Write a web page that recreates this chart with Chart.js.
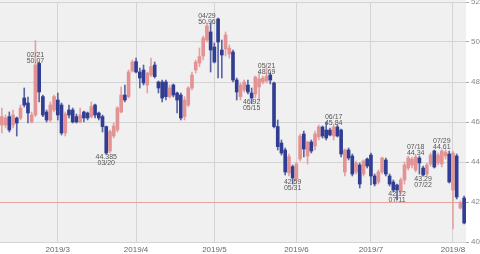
<!DOCTYPE html>
<html>
<head>
<meta charset="utf-8">
<script src="https://cdn.jsdelivr.net/npm/chart.js@4.4.1/dist/chart.umd.min.js"></script>
<style>
html, body { margin: 0; padding: 0; background: #fff; }
</style>
</head>
<body>
<canvas id="chart" width="480" height="254"></canvas>
<script>
// trading days shown (2019)
const febDays = [7, 8, 11, 12, 13, 14, 15, 19, 20, 21, 22, 25, 26, 27, 28];
const marDays = [1, 4, 5, 6, 7, 8, 11, 12, 13, 14, 15, 18, 19, 20, 21, 22, 25, 26, 27, 28, 29];
const aprDays = [1, 2, 3, 4, 5, 8, 9, 10, 11, 12, 15, 16, 17, 18, 22, 23, 24, 25, 26, 29, 30];
const mayDays = [1, 2, 3, 6, 7, 8, 9, 10, 13, 14, 15, 16, 17, 20, 21, 22, 23, 24, 28, 29, 30, 31];
const junDays = [3, 4, 5, 6, 7, 10, 11, 12, 13, 14, 17, 18, 19, 20, 21, 24, 25, 26, 27, 28];
const julDays = [1, 2, 3, 5, 8, 9, 10, 11, 12, 15, 16, 17, 18, 19, 22, 23, 24, 25, 26, 29, 30, 31];
const augDays = [1, 2, 5, 6];

const opens = [
  45.85, 45.85, 46.27, 45.85, 46.2, 46.2, 47.2, 46.95, 46.0, 46.35,
  48.93, 47.27, 46.5, 46.1, 46.6, 47.1, 46.85, 45.45, 46.6, 46.6,
  46.27, 46.0, 46.5, 46.45, 46.27, 46.85, 46.45, 46.27, 45.77, 44.55,
  45.3, 45.6, 46.5, 47.35, 47.27, 48.55, 49.02, 48.5, 48.6, 47.85,
  48.35, 48.85, 48.0, 48.0, 48.0, 47.27, 47.85, 47.45, 47.35, 46.27,
  46.85, 47.7, 48.6, 48.95, 49.3, 50.1, 50.5, 49.75, 51.15, 49.6,
  49.65, 49.4, 49.5, 48.1, 47.27, 47.6, 47.85, 47.45, 47.4, 47.75,
  48.0, 48.05, 48.35, 47.95, 45.77, 44.95, 44.6, 43.45, 43.77, 43.15,
  44.15, 45.4, 44.3, 45.0, 44.8, 45.25, 45.75, 45.6, 45.6, 45.3,
  45.75, 45.6, 43.5, 44.6, 44.3, 43.5, 43.85, 43.4, 44.15, 44.35,
  43.3, 43.0, 43.5, 44.1, 43.3, 43.0, 42.85, 42.5, 43.1, 43.7,
  43.85, 43.6, 44.2, 43.7, 43.4, 43.9, 44.55, 43.95, 43.9, 44.3,
  44.4, 42.6, 44.3, 41.7, 42.2
];
const highs = [
  46.7, 46.35, 46.5, 46.6, 46.25, 46.85, 47.7, 47.25, 46.5, 50.07,
  49.0, 47.35, 46.6, 47.0, 47.35, 47.45, 46.95, 46.5, 46.85, 46.7,
  46.4, 46.7, 46.55, 46.5, 47.0, 46.9, 46.5, 46.35, 45.8, 45.6,
  45.95, 46.77, 47.75, 47.85, 48.6, 49.1, 49.2, 48.7, 48.85, 48.5,
  49.2, 49.0, 48.05, 48.1, 48.1, 47.85, 47.9, 47.5, 47.45, 47.27,
  47.77, 48.5, 49.1, 49.7, 50.3, 50.96, 50.95, 49.95, 51.2, 50.1,
  50.5, 49.85, 49.6, 48.2, 47.95, 48.1, 48.1, 47.7, 48.3, 48.5,
  48.3, 48.69, 48.45, 48.0, 46.1, 45.1, 44.7, 44.4, 43.85, 44.0,
  45.4, 45.55, 45.05, 45.1, 45.55, 45.85, 45.8, 46.0, 45.7, 45.84,
  45.84, 45.65, 44.65, 44.7, 44.4, 44.05, 43.95, 44.1, 44.2, 44.45,
  43.4, 43.6, 44.25, 44.2, 43.4, 43.1, 42.9, 43.2, 44.0, 44.3,
  44.25, 44.34, 44.3, 43.8, 43.95, 44.45, 44.6, 44.45, 44.61, 44.6,
  44.55, 44.55, 44.4, 42.05, 42.3
];
const lows = [
  45.45, 45.7, 45.5, 45.7, 45.3, 46.1, 46.75, 45.95, 45.95, 46.27,
  47.0, 46.27, 46.0, 46.0, 46.5, 46.1, 45.35, 45.3, 46.2, 45.95,
  45.95, 45.95, 46.0, 46.1, 46.2, 46.2, 46.1, 45.5, 44.385, 44.45,
  45.2, 45.5, 46.45, 47.0, 47.2, 48.5, 48.45, 47.7, 47.85, 47.45,
  48.27, 48.2, 47.45, 47.0, 47.1, 47.2, 47.25, 46.45, 46.1, 46.1,
  46.77, 47.6, 48.45, 48.77, 49.1, 50.0, 48.5, 48.95, 48.2, 48.2,
  49.3, 49.2, 48.0, 47.1, 47.1, 47.5, 47.4, 46.92, 47.2, 47.1,
  47.9, 47.95, 47.9, 45.7, 44.6, 44.35, 43.35, 43.3, 42.9, 43.0,
  44.05, 44.25, 43.9, 44.45, 44.6, 45.1, 45.2, 45.1, 45.3, 45.1,
  45.25, 44.25, 43.3, 44.1, 43.3, 43.4, 42.7, 43.3, 43.7, 42.85,
  42.8, 42.9, 43.4, 43.3, 42.8, 42.5, 42.12, 42.4, 42.9, 43.6,
  43.7, 43.5, 43.4, 43.29, 43.3, 43.8, 43.7, 43.85, 43.75, 44.15,
  42.95, 40.65, 42.15, 41.65, 40.9
];
const closes = [
  46.27, 46.2, 45.6, 46.35, 45.95, 46.7, 46.85, 46.45, 46.35, 48.85,
  47.5, 46.35, 46.1, 46.85, 47.27, 46.35, 45.45, 46.4, 46.35, 46.0,
  46.0, 46.35, 46.2, 46.2, 46.77, 46.35, 46.2, 45.77, 44.45, 45.52,
  45.8, 46.7, 47.35, 47.1, 48.5, 49.0, 48.5, 48.2, 47.95, 48.45,
  48.77, 48.27, 47.7, 47.2, 47.27, 47.7, 47.35, 47.1, 46.2, 47.1,
  47.7, 48.35, 49.0, 49.27, 50.2, 50.8, 49.6, 49.0, 50.0, 49.35,
  50.35, 49.7, 48.1, 47.5, 47.85, 48.0, 47.5, 47.2, 48.25, 48.15,
  48.2, 48.3, 48.1, 45.77, 44.77, 44.45, 43.5, 44.27, 43.2, 43.9,
  45.3, 44.65, 45.0, 44.55, 45.4, 45.75, 45.3, 45.2, 45.35, 45.75,
  45.3, 44.4, 44.6, 44.2, 43.4, 43.95, 42.9, 44.05, 43.8, 43.3,
  42.9, 43.5, 44.2, 43.4, 42.9, 42.6, 42.6, 43.1, 43.85, 44.2,
  44.15, 44.25, 43.95, 43.35, 43.85, 44.35, 43.75, 44.35, 44.55, 44.5,
  43.0, 44.45, 42.25, 41.95, 40.95
];

// high / low marks written on the chart
const markDates = ["02/21", "03/20", "04/29", "05/15", "05/21", "05/31", "06/17", "07/11", "07/18", "07/22", "07/29"];
const markValues = ["50.07", "44.385", "50.96", "46.92", "48.69", "42.59", "45.84", "42.12", "44.34", "43.29", "44.61"];
const markSides = ["high", "low", "high", "low", "high", "low", "high", "low", "high", "low", "high"];

const refPrice = 42;
const yTicks = [40, 42, 44, 46, 48, 50, 52];

const months = [[2, febDays], [3, marDays], [4, aprDays], [5, mayDays], [6, junDays], [7, julDays], [8, augDays]];
const labels = [];
const monthStart = [];
months.forEach(([m, days]) => {
  days.forEach((d, k) => {
    labels.push("2019/" + String(m).padStart(2, "0") + "/" + String(d).padStart(2, "0"));
    monthStart.push(k === 0 && m > 2 ? "2019/" + m : null);
  });
});

const RED = "#e39393", BLUE = "#313d92";
const RED_W = "#e6a2a2", BLUE_W = "#5a64a4";
const up = opens.map((o, i) => closes[i] >= o);
const FONT = '"Liberation Sans", Arial, sans-serif';

const bgPlugin = {
  id: "bg",
  beforeDraw(chart) {
    const { ctx, chartArea: a } = chart;
    ctx.save();
    ctx.fillStyle = "#f0f0f0";
    ctx.fillRect(a.left, 0, a.right - a.left, a.bottom);
    ctx.restore();
  },
  beforeDatasetsDraw(chart) {
    const { ctx, chartArea: a, scales } = chart;
    const py = Math.round(scales.y.getPixelForValue(refPrice)) + 0.5;
    ctx.save();
    ctx.strokeStyle = "#e7a3a3";
    ctx.lineWidth = 1;
    ctx.beginPath();
    ctx.moveTo(a.left, py);
    ctx.lineTo(a.right, py);
    ctx.stroke();
    ctx.restore();
  }
};

const markPlugin = {
  id: "marks",
  afterDatasetsDraw(chart) {
    const { ctx, scales: { x, y } } = chart;
    ctx.save();
    ctx.font = "7px " + FONT;
    ctx.fillStyle = "#555";
    ctx.textAlign = "center";
    ctx.textBaseline = "middle";
    markDates.forEach((d, k) => {
      const i = labels.findIndex(l => l.slice(5) === d);
      if (i < 0) return;
      const px = x.getPixelForValue(i);
      if (markSides[k] === "high") {
        const top = y.getPixelForValue(Math.max(opens[i], closes[i]));
        ctx.fillText(d, px, top - 10);
        ctx.fillText(markValues[k], px, top - 4);
      } else {
        const bot = y.getPixelForValue(Math.min(opens[i], closes[i]));
        ctx.fillText(markValues[k], px, bot + 4);
        ctx.fillText(d, px, bot + 10);
      }
    });
    ctx.restore();
  }
};

new Chart(document.getElementById("chart"), {
  type: "bar",
  data: {
    labels,
    datasets: [
      {
        data: opens.map((o, i) => [o, closes[i]]),
        backgroundColor: up.map(u => u ? RED : BLUE),
        barThickness: 3,
        grouped: false
      },
      {
        data: lows.map((l, i) => [l, highs[i]]),
        backgroundColor: up.map(u => u ? RED_W : BLUE_W),
        barThickness: 1,
        grouped: false
      }
    ]
  },
  options: {
    responsive: false,
    devicePixelRatio: 1,
    animation: false,
    layout: { padding: { top: 2, left: 0, right: 0, bottom: 0 } },
    plugins: { legend: { display: false }, tooltip: { enabled: false } },
    scales: {
      x: {
        offset: true,
        grid: { color: "#d4d4d4", offset: false, drawTicks: false, tickLength: 0 },
        border: { display: false },
        ticks: {
          autoSkip: false, maxRotation: 0, padding: 3, color: "#666",
          font: { size: 8, family: FONT },
          callback: (v, i) => monthStart[i]
        },
        afterFit: s => { s.height = 12; s.paddingLeft = 0; s.paddingRight = 0; }
      },
      y: {
        position: "right",
        min: 40, max: 52,
        afterBuildTicks: s => { s.ticks = yTicks.map(v => ({ value: v })); },
        grid: { color: "#d4d4d4", tickLength: 3, tickColor: "#aaa" },
        border: { display: false },
        ticks: { padding: 2, color: "#888", font: { size: 8, family: FONT } },
        afterFit: s => { s.width = 14; s.paddingTop = 0; s.paddingBottom = 0; }
      }
    }
  },
  plugins: [bgPlugin, markPlugin]
});
</script>
</body>
</html>
